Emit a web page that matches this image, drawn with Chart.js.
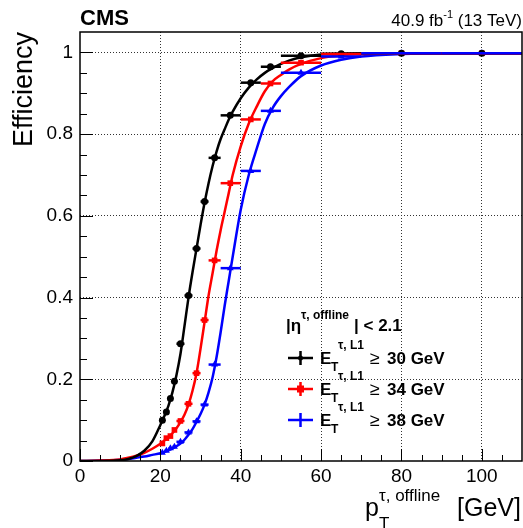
<!DOCTYPE html>
<html>
<head>
<meta charset="utf-8">
<script src="https://cdn.jsdelivr.net/npm/chart.js@4.4.1/dist/chart.umd.min.js"></script>
<style>
  html, body { margin: 0; padding: 0; background: #fff; }
  #wrap { width: 523px; height: 528px; }
</style>
</head>
<body>
<div id="wrap"><canvas id="effChart" width="523" height="528"></canvas></div>
<script>
// tick positions
const xTickVals = [0, 20, 40, 60, 80, 100];
const yTickVals = [0, 0.2, 0.4, 0.6, 0.8, 1];
const xMinorVals = [5, 10, 15, 25, 30, 35, 45, 50, 55, 65, 70, 75, 85, 90, 95, 105];
const yMinorVals = [0.05, 0.1, 0.15, 0.25, 0.3, 0.35, 0.45, 0.5, 0.55, 0.65, 0.7, 0.75, 0.85, 0.9, 0.95];

// measured points (bins in offline pT)
const binLo = [20, 21, 22, 23, 24, 26, 28, 30, 32, 35, 40, 45, 50, 60, 70, 90];
const binHi = [21, 22, 23, 24, 26, 28, 30, 32, 35, 40, 45, 50, 60, 70, 90, 110];
const ptX   = [20.5, 21.5, 22.5, 23.5, 25, 27, 29, 31, 33.5, 37.4, 42.5, 47.4, 55, 65, 80, 100];
const eff30 = [0.10, 0.12, 0.153, 0.195, 0.287, 0.405, 0.52, 0.635, 0.742, 0.846, 0.926, 0.965, 0.992, 0.997, 0.998, 0.998];
const eff34 = [0.043, 0.056, 0.061, 0.076, 0.098, 0.14, 0.215, 0.345, 0.491, 0.68, 0.836, 0.924, 0.975, 0.996, 0.998, 0.998];
const eff38 = [0.02, 0.025, 0.031, 0.035, 0.047, 0.07, 0.097, 0.138, 0.236, 0.472, 0.71, 0.857, 0.95, 0.99, 0.998, 0.998];

// fitted turn-on curves
const fitX  = [0, 5, 10, 12, 14, 16, 18, 20, 21, 22, 23, 24, 25, 26, 27, 28, 29, 30, 31, 32, 33, 34, 35, 36, 37, 38, 40, 42, 44, 46, 48, 50, 52, 55, 60, 65, 70, 80, 90, 110];
const fit30 = [0, 0, 0.002, 0.005, 0.012, 0.025, 0.048, 0.088, 0.11, 0.135, 0.168, 0.21, 0.262, 0.33, 0.4, 0.462, 0.52, 0.578, 0.632, 0.68, 0.722, 0.758, 0.788, 0.812, 0.835, 0.855, 0.888, 0.914, 0.934, 0.95, 0.962, 0.972, 0.98, 0.988, 0.995, 0.997, 0.998, 0.998, 0.998, 0.998];
const fit34 = [0, 0.001, 0.004, 0.008, 0.013, 0.02, 0.03, 0.042, 0.05, 0.058, 0.068, 0.08, 0.095, 0.113, 0.138, 0.172, 0.215, 0.275, 0.34, 0.405, 0.46, 0.515, 0.565, 0.61, 0.655, 0.7, 0.77, 0.826, 0.868, 0.905, 0.93, 0.945, 0.958, 0.972, 0.986, 0.993, 0.996, 0.998, 0.998, 0.998];
const fit38 = [0, 0.001, 0.003, 0.005, 0.008, 0.011, 0.015, 0.019, 0.022, 0.026, 0.03, 0.036, 0.043, 0.052, 0.064, 0.078, 0.096, 0.115, 0.138, 0.168, 0.205, 0.255, 0.315, 0.38, 0.44, 0.5, 0.615, 0.7, 0.765, 0.825, 0.865, 0.893, 0.915, 0.942, 0.968, 0.982, 0.99, 0.996, 0.998, 0.998];

const thresholds = ['30', '34', '38'];
const colors = ['#000000', '#ff0000', '#0000ff'];
const markers = ['circle', 'rect', 'triangle'];
const effs = [eff30, eff34, eff38];
const fits = [fit30, fit34, fit38];

const FONT = '"Liberation Sans", Arial, Helvetica, sans-serif';

const datasets = [];
fits.forEach((f, i) => {
  datasets.push({
    type: 'line',
    data: fitX.map((x, k) => ({ x: x, y: f[k] })),
    borderColor: colors[i],
    borderWidth: 2.5,
    pointRadius: 0,
    cubicInterpolationMode: 'monotone',
    fill: false,
    order: 2
  });
});
effs.forEach((e, i) => {
  datasets.push({
    type: 'scatter',
    data: ptX.map((x, k) => ({ x: x, y: e[k] })),
    backgroundColor: colors[i],
    borderColor: colors[i],
    pointStyle: markers[i],
    pointRadius: i === 0 ? 3.5 : 4,
    borderWidth: 0,
    showLine: false,
    order: 1
  });
});

function drawText(ctx, parts, x, y) {
  // parts: [text, size, bold, dx, dy]
  parts.forEach(p => {
    ctx.font = (p[2] ? 'bold ' : '') + p[1] + 'px ' + FONT;
    ctx.fillText(p[0], x + p[3], y + p[4]);
  });
}

const decorPlugin = {
  id: 'decor',
  afterDatasetsDraw(chart) {
    const ctx = chart.ctx;
    const xs = chart.scales.x, ys = chart.scales.y;
    const a = chart.chartArea;

    // horizontal error bars (bin widths)
    ctx.save();
    ctx.beginPath();
    ctx.rect(a.left, a.top, a.right - a.left, a.bottom - a.top);
    ctx.clip();
    effs.forEach((e, i) => {
      ctx.strokeStyle = colors[i];
      ctx.lineWidth = 2.5;
      e.forEach((v, k) => {
        const y = ys.getPixelForValue(v);
        ctx.beginPath();
        ctx.moveTo(xs.getPixelForValue(binLo[k]), y);
        ctx.lineTo(xs.getPixelForValue(binHi[k]), y);
        ctx.stroke();
      });
    });
    ctx.restore();

    // frame and inner ticks
    ctx.save();
    ctx.strokeStyle = '#000';
    ctx.lineWidth = 1.5;
    ctx.strokeRect(a.left, a.top, a.right - a.left, a.bottom - a.top);
    ctx.lineWidth = 1;
    ctx.beginPath();
    xTickVals.forEach(v => { const px = Math.round(xs.getPixelForValue(v)) + 0.5; ctx.moveTo(px, a.bottom); ctx.lineTo(px, a.bottom - 12); });
    xMinorVals.forEach(v => { const px = Math.round(xs.getPixelForValue(v)) + 0.5; ctx.moveTo(px, a.bottom); ctx.lineTo(px, a.bottom - 6); });
    yTickVals.forEach(v => { const py = Math.round(ys.getPixelForValue(v)) + 0.5; ctx.moveTo(a.left, py); ctx.lineTo(a.left + 13, py); });
    yMinorVals.forEach(v => { const py = Math.round(ys.getPixelForValue(v)) + 0.5; ctx.moveTo(a.left, py); ctx.lineTo(a.left + 7, py); });
    ctx.stroke();
    ctx.restore();

    // header texts
    ctx.save();
    ctx.fillStyle = '#000';
    ctx.textBaseline = 'alphabetic';
    ctx.textAlign = 'left';
    ctx.font = 'bold 22px ' + FONT;
    ctx.fillText('CMS', 80, 25);
    ctx.font = '17px ' + FONT;
    const t1 = '40.9 fb', t3 = ' (13 TeV)';
    const w1 = ctx.measureText(t1).width, w3 = ctx.measureText(t3).width;
    ctx.font = '11px ' + FONT;
    const w2 = ctx.measureText('-1').width;
    let lx = 522 - w1 - w2 - w3;
    ctx.font = '17px ' + FONT;
    ctx.fillText(t1, lx, 26);
    ctx.font = '11px ' + FONT;
    ctx.fillText('-1', lx + w1, 18);
    ctx.font = '17px ' + FONT;
    ctx.fillText(t3, lx + w1 + w2, 26);

    // axis titles
    ctx.save();
    ctx.translate(32, 32);
    ctx.rotate(-Math.PI / 2);
    ctx.textAlign = 'right';
    ctx.font = '27px ' + FONT;
    ctx.fillText('Efficiency', 0, 0);
    ctx.restore();

    drawText(ctx, [
      ['p', 25, false, 0, 0],
      ['\u03c4, offline', 17, false, 14, -15],
      ['T', 17, false, 14, 13],
      ['[GeV]', 25, false, 92, 0]
    ], 365, 516);

    // legend
    drawText(ctx, [
      ['|\u03b7', 17, true, 0, 0],
      ['\u03c4, offline', 12, true, 15, -12],
      ['| < 2.1', 17, true, 68, 0]
    ], 286, 331);

    const rowY = [358, 389, 420];
    rowY.forEach((y, i) => {
      ctx.strokeStyle = colors[i];
      ctx.fillStyle = colors[i];
      ctx.lineWidth = 2.5;
      ctx.beginPath();
      ctx.moveTo(288, y); ctx.lineTo(313, y);
      ctx.moveTo(300.5, y - 7); ctx.lineTo(300.5, y + 7);
      ctx.stroke();
      if (i === 1) ctx.fillRect(297, y - 3.5, 7, 7);
      if (i === 0) { ctx.beginPath(); ctx.arc(300.5, y, 2.5, 0, Math.PI * 2); ctx.fill(); }
      ctx.fillStyle = '#000';
      drawText(ctx, [
        ['E', 17, true, 0, 0],
        ['T', 12, true, 11, 7],
        ['\u03c4, L1', 12, true, 18, -15],
        ['\u2265', 18, false, 50, 0],
        [thresholds[i] + ' GeV', 17, true, 67, 0]
      ], 320, y + 6);
    });
    ctx.restore();
  }
};

const chart = new Chart(document.getElementById('effChart').getContext('2d'), {
  data: { datasets: datasets },
  options: {
    responsive: false,
    devicePixelRatio: 1,
    animation: false,
    layout: { autoPadding: false, padding: { top: 32, right: 1, left: 0, bottom: 0 } },
    plugins: { legend: { display: false }, tooltip: { enabled: false } },
    scales: {
      x: {
        type: 'linear',
        min: 0,
        max: 110,
        afterBuildTicks: s => { s.ticks = xTickVals.map(v => ({ value: v })); },
        afterFit: s => { s.height = 67; },
        ticks: {
          color: '#000',
          font: { family: FONT, size: 19 },
          padding: 4,
          maxRotation: 0,
          callback: v => String(v)
        },
        grid: {
          color: c => (c.tick && c.tick.value === 0) ? 'rgba(0,0,0,0)' : '#333',
          lineWidth: 1,
          drawTicks: false
        },
        border: { display: false, dash: [1, 2] }
      },
      y: {
        type: 'linear',
        min: 0,
        max: 1.05,
        afterBuildTicks: s => { s.ticks = yTickVals.map(v => ({ value: v })); },
        afterFit: s => { s.width = 80; },
        ticks: {
          color: '#000',
          font: { family: FONT, size: 19 },
          padding: 7,
          callback: v => String(Math.round(v * 10) / 10)
        },
        grid: {
          color: c => (c.tick && c.tick.value === 0) ? 'rgba(0,0,0,0)' : '#333',
          lineWidth: 1,
          drawTicks: false
        },
        border: { display: false, dash: [1, 2] }
      }
    }
  },
  plugins: [decorPlugin]
});
</script>
</body>
</html>
